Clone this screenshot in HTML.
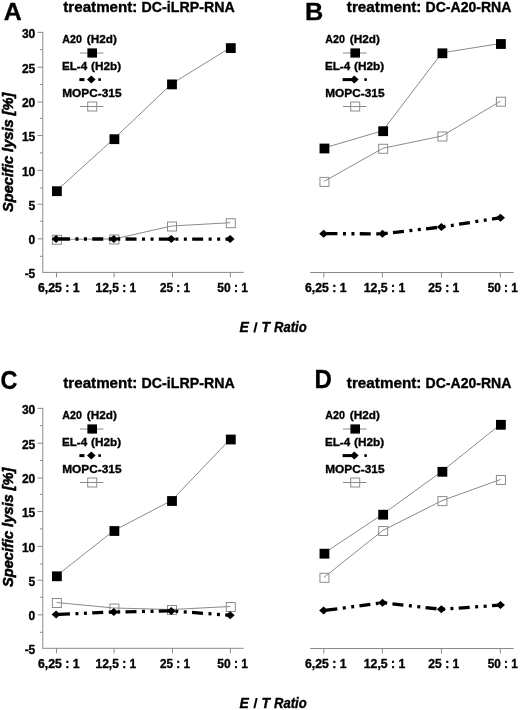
<!DOCTYPE html>
<html><head><meta charset="utf-8"><style>
html,body{margin:0;padding:0;background:#fff;width:520px;height:710px;overflow:hidden;}
svg{position:absolute;left:0;top:0;will-change:transform;}
svg text{font-family:"Liberation Sans",sans-serif;font-weight:bold;fill:#000;stroke:#000;stroke-width:0.35px;}
svg line,svg rect[fill=none]{stroke-width:1;}
</style></head><body>
<svg width="520" height="710" viewBox="0 0 520 710"><g><line x1="42.8" y1="272.4" x2="243.7" y2="272.4" stroke="#8a8a8a"/><line x1="56.5" y1="272.4" x2="56.5" y2="277.4" stroke="#8a8a8a"/><line x1="114.1" y1="272.4" x2="114.1" y2="277.4" stroke="#8a8a8a"/><line x1="172.5" y1="272.4" x2="172.5" y2="277.4" stroke="#8a8a8a"/><line x1="230.4" y1="272.4" x2="230.4" y2="277.4" stroke="#8a8a8a"/><text x="37.97" y="291.9" font-size="12" font-style="normal" textLength="41.65" lengthAdjust="spacingAndGlyphs">6,25 : 1</text><text x="95.52" y="291.9" font-size="12" font-style="normal" textLength="40.59" lengthAdjust="spacingAndGlyphs">12,5 : 1</text><text x="159.99" y="291.9" font-size="12" font-style="normal" textLength="29.93" lengthAdjust="spacingAndGlyphs">25 : 1</text><text x="217.34" y="291.9" font-size="12" font-style="normal" textLength="30.58" lengthAdjust="spacingAndGlyphs">50 : 1</text><line x1="42.8" y1="31.85" x2="42.8" y2="272.9" stroke="#8a8a8a"/><line x1="37.5" y1="32.35" x2="42.8" y2="32.35" stroke="#8a8a8a"/><text x="35.3" y="37.75" font-size="12" text-anchor="end" font-style="normal">30</text><line x1="40" y1="49.65" x2="42.8" y2="49.65" stroke="#8a8a8a"/><line x1="37.5" y1="67.15" x2="42.8" y2="67.15" stroke="#8a8a8a"/><text x="35.3" y="72.55" font-size="12" text-anchor="end" font-style="normal">25</text><line x1="40" y1="84.55" x2="42.8" y2="84.55" stroke="#8a8a8a"/><line x1="37.5" y1="102.0" x2="42.8" y2="102.0" stroke="#8a8a8a"/><text x="35.3" y="107.4" font-size="12" text-anchor="end" font-style="normal">20</text><line x1="40" y1="118.3" x2="42.8" y2="118.3" stroke="#8a8a8a"/><line x1="37.5" y1="135.5" x2="42.8" y2="135.5" stroke="#8a8a8a"/><text x="35.3" y="140.9" font-size="12" text-anchor="end" font-style="normal">15</text><line x1="40" y1="152.9" x2="42.8" y2="152.9" stroke="#8a8a8a"/><line x1="37.5" y1="170.4" x2="42.8" y2="170.4" stroke="#8a8a8a"/><text x="35.3" y="175.8" font-size="12" text-anchor="end" font-style="normal">10</text><line x1="40" y1="187.95" x2="42.8" y2="187.95" stroke="#8a8a8a"/><line x1="37.5" y1="204.2" x2="42.8" y2="204.2" stroke="#8a8a8a"/><text x="35.3" y="209.6" font-size="12" text-anchor="end" font-style="normal">5</text><line x1="40" y1="221.25" x2="42.8" y2="221.25" stroke="#8a8a8a"/><line x1="37.5" y1="238.85" x2="42.8" y2="238.85" stroke="#8a8a8a"/><text x="35.3" y="244.25" font-size="12" text-anchor="end" font-style="normal">0</text><line x1="40" y1="256.3" x2="42.8" y2="256.3" stroke="#8a8a8a"/><text x="35.3" y="277.7" font-size="12" text-anchor="end" font-style="normal">-5</text><polyline points="56.9,191.2 114.4,139.2 172.0,84.4 230.8,48.1" fill="none" stroke="#8a8a8a" transform="translate(-0.4,-0.5)"/><polyline points="56.9,239.8 114.4,239.5 172.0,226.5 230.8,223.2" fill="none" stroke="#8a8a8a" transform="translate(-0.4,-0.5)"/><rect x="52.40" y="235.30" width="9" height="9" fill="none" stroke="#8c8c8c"/><rect x="109.90" y="235.00" width="9" height="9" fill="none" stroke="#8c8c8c"/><rect x="167.50" y="222.00" width="9" height="9" fill="none" stroke="#8c8c8c"/><rect x="226.30" y="218.70" width="9" height="9" fill="none" stroke="#8c8c8c"/><polyline points="56.15,239.0 113.80,239.0 171.25,239.1 230.15,239.1" fill="none" stroke="#000" stroke-width="3.3" stroke-dasharray="11 5.5 3 5.5 3 5.3" stroke-dashoffset="30.5"/><path d="M51.65 239.0 L56.15 235.0 L60.65 239.0 L56.15 243.0 Z"/><path d="M109.30 239.0 L113.80 235.0 L118.30 239.0 L113.80 243.0 Z"/><path d="M166.75 239.1 L171.25 235.1 L175.75 239.1 L171.25 243.1 Z"/><path d="M225.65 239.1 L230.15 235.1 L234.65 239.1 L230.15 243.1 Z"/><rect x="52.00" y="186.30" width="9.8" height="9.8"/><rect x="109.50" y="134.30" width="9.8" height="9.8"/><rect x="167.10" y="79.50" width="9.8" height="9.8"/><rect x="225.90" y="43.20" width="9.8" height="9.8"/><text x="3.68" y="19.6" font-size="24.8" font-style="normal" textLength="18.00" lengthAdjust="spacingAndGlyphs">A</text><text x="63.25" y="12.1" font-size="14.2" font-style="normal" textLength="74.17" lengthAdjust="spacingAndGlyphs">treatment:</text><text x="141.58" y="12.1" font-size="14.2" font-style="normal" textLength="93.08" lengthAdjust="spacingAndGlyphs">DC-iLRP-RNA</text><text x="62.33" y="42.9" font-size="11.8" font-style="normal" textLength="19.69" lengthAdjust="spacingAndGlyphs">A20</text><text x="86.81" y="42.9" font-size="11.8" font-style="normal" textLength="30.08" lengthAdjust="spacingAndGlyphs">(H2d)</text><line x1="79.90" y1="53" x2="103.40" y2="53" stroke="#8a8a8a"/><rect x="87.40" y="48.4" width="9.6" height="9.2"/><text x="61.94" y="69.6" font-size="11.8" font-style="normal" textLength="25.34" lengthAdjust="spacingAndGlyphs">EL-4</text><text x="91.11" y="69.6" font-size="11.8" font-style="normal" textLength="30.08" lengthAdjust="spacingAndGlyphs">(H2b)</text><rect x="79.40" y="78.10" width="5" height="3"/><path d="M87.00 79.60 L91.30 75.60 L95.60 79.60 L91.30 83.60 Z"/><rect x="98.30" y="78.30" width="2.6" height="2.6"/><text x="62.23" y="97.0" font-size="11.6" font-style="normal" textLength="59.29" lengthAdjust="spacingAndGlyphs">MOPC-315</text><line x1="79.90" y1="106.5" x2="103.40" y2="106.5" stroke="#8a8a8a"/><rect x="87.70" y="102.0" width="9" height="9" fill="none" stroke="#8c8c8c"/></g><g><line x1="310.2" y1="272.5" x2="513.7" y2="272.5" stroke="#8a8a8a"/><line x1="323.8" y1="272.5" x2="323.8" y2="277.5" stroke="#8a8a8a"/><line x1="382.4" y1="272.5" x2="382.4" y2="277.5" stroke="#8a8a8a"/><line x1="441.4" y1="272.5" x2="441.4" y2="277.5" stroke="#8a8a8a"/><line x1="500.3" y1="272.5" x2="500.3" y2="277.5" stroke="#8a8a8a"/><text x="305.07" y="292.0" font-size="12" font-style="normal" textLength="41.45" lengthAdjust="spacingAndGlyphs">6,25 : 1</text><text x="363.80" y="292.0" font-size="12" font-style="normal" textLength="41.62" lengthAdjust="spacingAndGlyphs">12,5 : 1</text><text x="428.38" y="292.0" font-size="12" font-style="normal" textLength="30.85" lengthAdjust="spacingAndGlyphs">25 : 1</text><text x="487.65" y="292.0" font-size="12" font-style="normal" textLength="30.07" lengthAdjust="spacingAndGlyphs">50 : 1</text><polyline points="324.45,148.5 383.15,131.2 442.4,53.3 500.9,44.0" fill="none" stroke="#8a8a8a" transform="translate(-0.4,-0.5)"/><polyline points="324.45,181.9 383.15,148.8 442.4,136.5 500.9,101.7" fill="none" stroke="#8a8a8a" transform="translate(-0.4,-0.5)"/><rect x="319.95" y="177.40" width="9" height="9" fill="none" stroke="#8c8c8c"/><rect x="378.65" y="144.30" width="9" height="9" fill="none" stroke="#8c8c8c"/><rect x="437.90" y="132.00" width="9" height="9" fill="none" stroke="#8c8c8c"/><rect x="496.40" y="97.20" width="9" height="9" fill="none" stroke="#8c8c8c"/><polyline points="323.65,233.7 382.50,233.8 441.35,227.0 500.45,217.7" fill="none" stroke="#000" stroke-width="3.3" stroke-dasharray="11 5.5 3 5.5 3 5.3" stroke-dashoffset="30.5"/><path d="M319.15 233.7 L323.65 229.7 L328.15 233.7 L323.65 237.7 Z"/><path d="M378.00 233.8 L382.50 229.8 L387.00 233.8 L382.50 237.8 Z"/><path d="M436.85 227.0 L441.35 223.0 L445.85 227.0 L441.35 231.0 Z"/><path d="M495.95 217.7 L500.45 213.7 L504.95 217.7 L500.45 221.7 Z"/><rect x="319.55" y="143.60" width="9.8" height="9.8"/><rect x="378.25" y="126.30" width="9.8" height="9.8"/><rect x="437.50" y="48.40" width="9.8" height="9.8"/><rect x="496.00" y="39.10" width="9.8" height="9.8"/><text x="304.96" y="19.6" font-size="24.8" font-style="normal" textLength="18.23" lengthAdjust="spacingAndGlyphs">B</text><text x="346.85" y="12.1" font-size="14.2" font-style="normal" textLength="74.58" lengthAdjust="spacingAndGlyphs">treatment:</text><text x="425.59" y="12.1" font-size="14.2" font-style="normal" textLength="85.79" lengthAdjust="spacingAndGlyphs">DC-A20-RNA</text><text x="325.33" y="42.9" font-size="11.8" font-style="normal" textLength="19.69" lengthAdjust="spacingAndGlyphs">A20</text><text x="349.81" y="42.9" font-size="11.8" font-style="normal" textLength="30.08" lengthAdjust="spacingAndGlyphs">(H2d)</text><line x1="342.90" y1="53" x2="366.40" y2="53" stroke="#8a8a8a"/><rect x="350.40" y="48.4" width="9.6" height="9.2"/><text x="324.94" y="69.6" font-size="11.8" font-style="normal" textLength="25.34" lengthAdjust="spacingAndGlyphs">EL-4</text><text x="354.11" y="69.6" font-size="11.8" font-style="normal" textLength="30.08" lengthAdjust="spacingAndGlyphs">(H2b)</text><rect x="342.60" y="78.10" width="12" height="3"/><path d="M350.00 79.60 L354.30 75.60 L358.60 79.60 L354.30 83.60 Z"/><rect x="364.30" y="78.30" width="2.6" height="2.6"/><text x="325.23" y="97.0" font-size="11.6" font-style="normal" textLength="59.29" lengthAdjust="spacingAndGlyphs">MOPC-315</text><line x1="342.90" y1="106.5" x2="366.40" y2="106.5" stroke="#8a8a8a"/><rect x="350.70" y="102.0" width="9" height="9" fill="none" stroke="#8c8c8c"/></g><g><line x1="42.8" y1="648.3" x2="243.7" y2="648.3" stroke="#8a8a8a"/><line x1="56.5" y1="648.3" x2="56.5" y2="653.3" stroke="#8a8a8a"/><line x1="114.1" y1="648.3" x2="114.1" y2="653.3" stroke="#8a8a8a"/><line x1="172.5" y1="648.3" x2="172.5" y2="653.3" stroke="#8a8a8a"/><line x1="230.4" y1="648.3" x2="230.4" y2="653.3" stroke="#8a8a8a"/><text x="37.97" y="667.8" font-size="12" font-style="normal" textLength="41.65" lengthAdjust="spacingAndGlyphs">6,25 : 1</text><text x="95.52" y="667.8" font-size="12" font-style="normal" textLength="40.59" lengthAdjust="spacingAndGlyphs">12,5 : 1</text><text x="159.99" y="667.8" font-size="12" font-style="normal" textLength="29.93" lengthAdjust="spacingAndGlyphs">25 : 1</text><text x="217.34" y="667.8" font-size="12" font-style="normal" textLength="30.58" lengthAdjust="spacingAndGlyphs">50 : 1</text><line x1="42.8" y1="407.85" x2="42.8" y2="648.8" stroke="#8a8a8a"/><line x1="37.5" y1="408.35" x2="42.8" y2="408.35" stroke="#8a8a8a"/><text x="35.3" y="413.75" font-size="12" text-anchor="end" font-style="normal">30</text><line x1="40" y1="425.65" x2="42.8" y2="425.65" stroke="#8a8a8a"/><line x1="37.5" y1="443.15" x2="42.8" y2="443.15" stroke="#8a8a8a"/><text x="35.3" y="448.55" font-size="12" text-anchor="end" font-style="normal">25</text><line x1="40" y1="460.55" x2="42.8" y2="460.55" stroke="#8a8a8a"/><line x1="37.5" y1="478.0" x2="42.8" y2="478.0" stroke="#8a8a8a"/><text x="35.3" y="483.4" font-size="12" text-anchor="end" font-style="normal">20</text><line x1="40" y1="494.3" x2="42.8" y2="494.3" stroke="#8a8a8a"/><line x1="37.5" y1="511.5" x2="42.8" y2="511.5" stroke="#8a8a8a"/><text x="35.3" y="516.9" font-size="12" text-anchor="end" font-style="normal">15</text><line x1="40" y1="528.9" x2="42.8" y2="528.9" stroke="#8a8a8a"/><line x1="37.5" y1="546.4" x2="42.8" y2="546.4" stroke="#8a8a8a"/><text x="35.3" y="551.8" font-size="12" text-anchor="end" font-style="normal">10</text><line x1="40" y1="563.95" x2="42.8" y2="563.95" stroke="#8a8a8a"/><line x1="37.5" y1="580.2" x2="42.8" y2="580.2" stroke="#8a8a8a"/><text x="35.3" y="585.6" font-size="12" text-anchor="end" font-style="normal">5</text><line x1="40" y1="597.25" x2="42.8" y2="597.25" stroke="#8a8a8a"/><line x1="37.5" y1="614.85" x2="42.8" y2="614.85" stroke="#8a8a8a"/><text x="35.3" y="620.25" font-size="12" text-anchor="end" font-style="normal">0</text><line x1="40" y1="632.3" x2="42.8" y2="632.3" stroke="#8a8a8a"/><text x="35.3" y="653.7" font-size="12" text-anchor="end" font-style="normal">-5</text><polyline points="56.9,576.3 114.4,531.0 172.0,501.0 230.8,439.5" fill="none" stroke="#8a8a8a" transform="translate(-0.4,-0.5)"/><polyline points="56.9,603.0 114.4,608.5 172.0,610.0 230.8,607.0" fill="none" stroke="#8a8a8a" transform="translate(-0.4,-0.5)"/><rect x="52.40" y="598.50" width="9" height="9" fill="none" stroke="#8c8c8c"/><rect x="109.90" y="604.00" width="9" height="9" fill="none" stroke="#8c8c8c"/><rect x="167.50" y="605.50" width="9" height="9" fill="none" stroke="#8c8c8c"/><rect x="226.30" y="602.50" width="9" height="9" fill="none" stroke="#8c8c8c"/><polyline points="56.15,614.5 113.80,612.0 171.25,610.9 230.15,615.3" fill="none" stroke="#000" stroke-width="3.3" stroke-dasharray="11 5.5 3 5.5 3 5.3" stroke-dashoffset="30.5"/><path d="M51.65 614.5 L56.15 610.5 L60.65 614.5 L56.15 618.5 Z"/><path d="M109.30 612.0 L113.80 608.0 L118.30 612.0 L113.80 616.0 Z"/><path d="M166.75 610.9 L171.25 606.9 L175.75 610.9 L171.25 614.9 Z"/><path d="M225.65 615.3 L230.15 611.3 L234.65 615.3 L230.15 619.3 Z"/><rect x="52.00" y="571.40" width="9.8" height="9.8"/><rect x="109.50" y="526.10" width="9.8" height="9.8"/><rect x="167.10" y="496.10" width="9.8" height="9.8"/><rect x="225.90" y="434.60" width="9.8" height="9.8"/><text x="0.57" y="388.5" font-size="25.8" font-style="normal" textLength="16.87" lengthAdjust="spacingAndGlyphs">C</text><text x="63.25" y="388.4" font-size="14.2" font-style="normal" textLength="74.17" lengthAdjust="spacingAndGlyphs">treatment:</text><text x="141.58" y="388.4" font-size="14.2" font-style="normal" textLength="93.08" lengthAdjust="spacingAndGlyphs">DC-iLRP-RNA</text><text x="62.33" y="418.9" font-size="11.8" font-style="normal" textLength="19.69" lengthAdjust="spacingAndGlyphs">A20</text><text x="86.81" y="418.9" font-size="11.8" font-style="normal" textLength="30.08" lengthAdjust="spacingAndGlyphs">(H2d)</text><line x1="79.90" y1="429" x2="103.40" y2="429" stroke="#8a8a8a"/><rect x="87.40" y="424.4" width="9.6" height="9.2"/><text x="61.94" y="445.6" font-size="11.8" font-style="normal" textLength="25.34" lengthAdjust="spacingAndGlyphs">EL-4</text><text x="91.11" y="445.6" font-size="11.8" font-style="normal" textLength="30.08" lengthAdjust="spacingAndGlyphs">(H2b)</text><rect x="79.40" y="454.10" width="5" height="3"/><path d="M87.00 455.60 L91.30 451.60 L95.60 455.60 L91.30 459.60 Z"/><rect x="98.30" y="454.30" width="2.6" height="2.6"/><text x="62.23" y="473.0" font-size="11.6" font-style="normal" textLength="59.29" lengthAdjust="spacingAndGlyphs">MOPC-315</text><line x1="79.90" y1="482.5" x2="103.40" y2="482.5" stroke="#8a8a8a"/><rect x="87.70" y="478.0" width="9" height="9" fill="none" stroke="#8c8c8c"/></g><g><line x1="310.2" y1="648.5" x2="513.7" y2="648.5" stroke="#8a8a8a"/><line x1="323.8" y1="648.5" x2="323.8" y2="653.5" stroke="#8a8a8a"/><line x1="382.4" y1="648.5" x2="382.4" y2="653.5" stroke="#8a8a8a"/><line x1="441.4" y1="648.5" x2="441.4" y2="653.5" stroke="#8a8a8a"/><line x1="500.3" y1="648.5" x2="500.3" y2="653.5" stroke="#8a8a8a"/><text x="305.07" y="668.0" font-size="12" font-style="normal" textLength="41.45" lengthAdjust="spacingAndGlyphs">6,25 : 1</text><text x="363.80" y="668.0" font-size="12" font-style="normal" textLength="41.62" lengthAdjust="spacingAndGlyphs">12,5 : 1</text><text x="428.38" y="668.0" font-size="12" font-style="normal" textLength="30.85" lengthAdjust="spacingAndGlyphs">25 : 1</text><text x="487.65" y="668.0" font-size="12" font-style="normal" textLength="30.07" lengthAdjust="spacingAndGlyphs">50 : 1</text><polyline points="324.45,553.7 383.15,514.7 442.4,471.8 500.9,424.8" fill="none" stroke="#8a8a8a" transform="translate(-0.4,-0.5)"/><polyline points="324.45,577.8 383.15,531.0 442.4,501.1 500.9,480.0" fill="none" stroke="#8a8a8a" transform="translate(-0.4,-0.5)"/><rect x="319.95" y="573.30" width="9" height="9" fill="none" stroke="#8c8c8c"/><rect x="378.65" y="526.50" width="9" height="9" fill="none" stroke="#8c8c8c"/><rect x="437.90" y="496.60" width="9" height="9" fill="none" stroke="#8c8c8c"/><rect x="496.40" y="475.50" width="9" height="9" fill="none" stroke="#8c8c8c"/><polyline points="323.65,610.6 382.50,602.7 441.35,609.3 500.45,605.1" fill="none" stroke="#000" stroke-width="3.3" stroke-dasharray="11 5.5 3 5.5 3 5.3" stroke-dashoffset="30.5"/><path d="M319.15 610.6 L323.65 606.6 L328.15 610.6 L323.65 614.6 Z"/><path d="M378.00 602.7 L382.50 598.7 L387.00 602.7 L382.50 606.7 Z"/><path d="M436.85 609.3 L441.35 605.3 L445.85 609.3 L441.35 613.3 Z"/><path d="M495.95 605.1 L500.45 601.1 L504.95 605.1 L500.45 609.1 Z"/><rect x="319.55" y="548.80" width="9.8" height="9.8"/><rect x="378.25" y="509.80" width="9.8" height="9.8"/><rect x="437.50" y="466.90" width="9.8" height="9.8"/><rect x="496.00" y="419.90" width="9.8" height="9.8"/><text x="314.54" y="388.2" font-size="25.4" font-style="normal" textLength="17.38" lengthAdjust="spacingAndGlyphs">D</text><text x="346.85" y="388.4" font-size="14.2" font-style="normal" textLength="74.58" lengthAdjust="spacingAndGlyphs">treatment:</text><text x="425.59" y="388.4" font-size="14.2" font-style="normal" textLength="85.79" lengthAdjust="spacingAndGlyphs">DC-A20-RNA</text><text x="325.33" y="418.9" font-size="11.8" font-style="normal" textLength="19.69" lengthAdjust="spacingAndGlyphs">A20</text><text x="349.81" y="418.9" font-size="11.8" font-style="normal" textLength="30.08" lengthAdjust="spacingAndGlyphs">(H2d)</text><line x1="342.90" y1="429" x2="366.40" y2="429" stroke="#8a8a8a"/><rect x="350.40" y="424.4" width="9.6" height="9.2"/><text x="324.94" y="445.6" font-size="11.8" font-style="normal" textLength="25.34" lengthAdjust="spacingAndGlyphs">EL-4</text><text x="354.11" y="445.6" font-size="11.8" font-style="normal" textLength="30.08" lengthAdjust="spacingAndGlyphs">(H2b)</text><rect x="342.60" y="454.10" width="12" height="3"/><path d="M350.00 455.60 L354.30 451.60 L358.60 455.60 L354.30 459.60 Z"/><rect x="364.30" y="454.30" width="2.6" height="2.6"/><text x="325.23" y="473.0" font-size="11.6" font-style="normal" textLength="59.29" lengthAdjust="spacingAndGlyphs">MOPC-315</text><line x1="342.90" y1="482.5" x2="366.40" y2="482.5" stroke="#8a8a8a"/><rect x="350.70" y="478.0" width="9" height="9" fill="none" stroke="#8c8c8c"/></g><text x="239.6" y="332.4" font-size="14" text-anchor="start" font-style="italic">E</text><path d="M255.7 322.3 L257.7 322.3 L255.3 332.4 L253.3 332.4 Z"/><text x="261.6" y="332.4" font-size="14" text-anchor="start" font-style="italic">T</text><text x="274.04" y="332.4" font-size="14" font-style="italic" textLength="32.65" lengthAdjust="spacingAndGlyphs">Ratio</text><text x="239.6" y="708.2" font-size="14" text-anchor="start" font-style="italic">E</text><path d="M255.7 698.1 L257.7 698.1 L255.3 708.2 L253.3 708.2 Z"/><text x="261.6" y="708.2" font-size="14" text-anchor="start" font-style="italic">T</text><text x="274.04" y="708.2" font-size="14" font-style="italic" textLength="32.65" lengthAdjust="spacingAndGlyphs">Ratio</text><text transform="translate(13.2,211.9) rotate(-90)" font-size="14.6" font-style="italic" style="stroke-width:0.55px">Specific lysis [%]</text><text transform="translate(13.2,586.9) rotate(-90)" font-size="14.6" font-style="italic" style="stroke-width:0.55px">Specific lysis [%]</text></svg>
</body></html>
